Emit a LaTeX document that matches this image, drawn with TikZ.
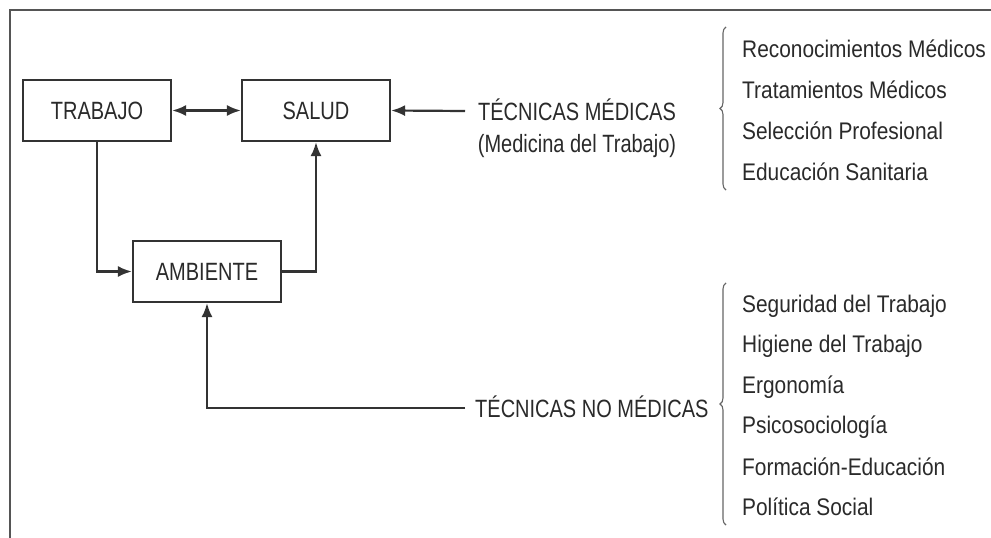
\documentclass[tikz,border=0pt]{standalone}
\usepackage{fontspec}
\setmainfont{Liberation Sans}[FakeStretch=0.80]
\newfontfamily\listfont{Liberation Sans}[FakeStretch=0.87]
\usetikzlibrary{arrows.meta,decorations.pathreplacing}
\definecolor{ink}{HTML}{2A2A2A}
\definecolor{linec}{HTML}{333333}
\definecolor{framec}{HTML}{555555}
\definecolor{bracec}{HTML}{666666}
\tikzset{
  box/.style={draw=linec, line width=2.2pt, minimum width=148pt, minimum height=61pt, inner sep=0pt, text=ink, font=\fontsize{25}{30}\selectfont},
  lbl/.style={text=ink, inner sep=0pt, font=\fontsize{25}{30}\selectfont},
  item/.style={text=ink, inner sep=0pt, anchor=base west, font=\listfont\fontsize{24}{29}\selectfont},
  conn/.style={draw=linec, line width=2.2pt, -{Latex[length=14pt,width=11pt]}},
  biconn/.style={draw=linec, line width=2.2pt, {Latex[length=14pt,width=11pt]}-{Latex[length=14pt,width=11pt]}},
  bracepath/.style={draw=bracec, line width=1.1pt, decorate, decoration={brace, amplitude=6pt}},
}
\begin{document}
\begin{tikzpicture}[x=1pt,y=-1pt]
\useasboundingbox (0,0) rectangle (991,538);
\fill[white] (0,0) rectangle (991,538);
% frame
\draw[framec, line width=2.5pt] (10,540) -- (10,10) -- (993,10);

% boxes
\node[box] (trabajo) at (97,110.5) {TRABAJO};
\node[box] (salud) at (316,110.5) {SALUD};
\node[box] (ambiente) at (207,271.5) {AMBIENTE};

% labels
\node[lbl, anchor=base] (medA) at (577,120) {TÉCNICAS MÉDICAS};
\node[lbl, anchor=base] (medB) at (577,152) {(Medicina del Trabajo)};
\node[lbl, anchor=base west] (nomed) at (475,417) {TÉCNICAS NO MÉDICAS};
\coordinate (mA) at (465,111);
\coordinate (nA) at (465,408);

% connectors
\draw[biconn] (trabajo) -- (salud);
\draw[conn] (mA) -- (salud.east);
\draw[conn] (trabajo.south) |- (ambiente.west);
\draw[conn] (ambiente.east) -| (salud.south);
\draw[conn] (nA) -| (ambiente.south);

% braces
\draw[bracepath] (726,190) -- (726,27);
\draw[bracepath] (726,525) -- (726,283);

% lists
\node[item] (r1) at (742,57) {Reconocimientos Médicos};
\node[item] (r2) at (742,98) {Tratamientos Médicos};
\node[item] (r3) at (742,139) {Selección Profesional};
\node[item] (r4) at (742,180) {Educación Sanitaria};

\node[item] (s1) at (742,312) {Seguridad del Trabajo};
\node[item] (s2) at (742,352) {Higiene del Trabajo};
\node[item] (s3) at (742,393) {Ergonomía};
\node[item] (s4) at (742,433) {Psicosociología};
\node[item] (s5) at (742,475) {Formación-Educación};
\node[item] (s6) at (742,515) {Política Social};
\end{tikzpicture}
\end{document}
